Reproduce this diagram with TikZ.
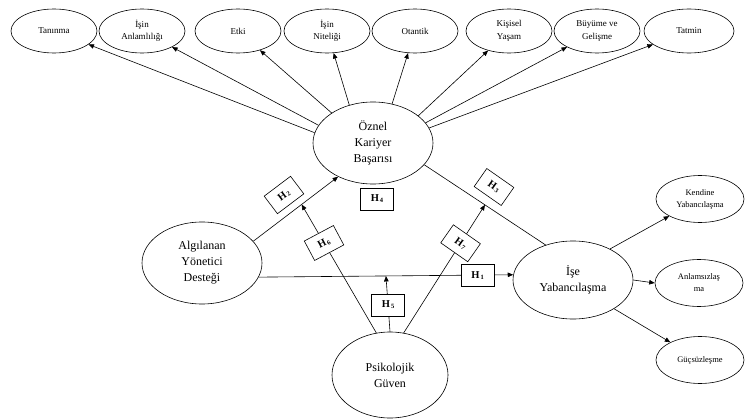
\documentclass[tikz,border=0pt]{standalone}
\usepackage{fontspec}
\setmainfont{Liberation Serif}
\usetikzlibrary{shapes.geometric,arrows.meta}

\newcommand{\hyp}[1]{\textbf{H}\kern1pt\raisebox{-0.2ex}{\fontsize{6.5}{6.5}\selectfont\bfseries #1}}

\tikzset{
  bigell/.style={ellipse, draw, line width=0.6pt, inner sep=0pt, align=center,
    minimum width=120pt, minimum height=82pt, font=\fontsize{12}{16}\selectfont},
  topell/.style={ellipse, draw, line width=0.6pt, inner sep=0pt, align=center,
    minimum width=86pt, minimum height=44pt, font=\fontsize{9}{12.5}\selectfont},
  sideell/.style={ellipse, draw, line width=0.6pt, inner sep=0pt, align=center,
    minimum width=88pt, minimum height=47pt, font=\fontsize{8.5}{12}\selectfont},
  hbox/.style={draw, fill=white, line width=0.6pt, inner sep=0pt,
    minimum width=33pt, minimum height=22pt, font=\fontsize{10.5}{11}\selectfont},
  arr/.style={line width=0.6pt, -{Triangle[length=5.5pt,width=4.5pt]}},
  ln/.style={line width=0.6pt},
}

\begin{document}
\begin{tikzpicture}[x=1pt,y=-1pt]
  \useasboundingbox (0,0) rectangle (745,420);

  % outcome dimensions of subjective career success
  \node[topell] (tan) at (54,31)  {Tanınma};
  \node[topell] (anl) at (142,31) {İşin\\Anlamlılığı};
  \node[topell] (etk) at (238,31) {Etki};
  \node[topell] (nit) at (327,31) {İşin\\Niteliği};
  \node[topell] (ota) at (415,31) {Otantik};
  \node[topell] (kis) at (509,31) {Kişisel\\Yaşam};
  \node[topell] (buy) at (597,31) {Büyüme ve\\Gelişme};
  \node[topell, minimum width=90pt] (tat) at (689,31) {Tatmin};

  % main constructs
  \node[bigell] (oz)  at (373,143) {Öznel\\Kariyer\\Başarısı};
  \node[bigell] (ayd) at (202,263) {Algılanan\\Yönetici\\Desteği};
  \node[bigell, minimum height=78pt] (ise) at (573,280) {İşe\\Yabancılaşma};
  \node[bigell, minimum width=116pt, minimum height=86pt] (pg) at (390,375) {Psikolojik\\Güven};

  % dimensions of work alienation
  \node[sideell] (ken) at (700,199) {Kendine\\Yabancılaşma};
  \node[sideell] (ans) at (699,283) {Anlamsızlaş\\ma};
  \node[sideell] (guc) at (700,360) {Güçsüzleşme};

  % subjective career success -> its dimensions
  \draw[arr] (oz.170) -- (tan);
  \draw[arr] (oz.162) -- (anl);
  \draw[arr] (oz.144) -- (etk);
  \draw[arr] (oz.122) -- (nit);
  \draw[arr] (oz.64)  -- (ota);
  \draw[arr] (oz.31)  -- (kis);
  \draw[arr] (oz.21)  -- (buy);
  \draw[arr] (oz.15)  -- (tat);

  % work alienation -> its dimensions
  \draw[arr] (ise.40) -- (ken);
  \draw[arr] (ise.east) -- (ans.west);
  \draw[arr] (ise.-35) -- (guc);

  % H1: supervisor support -> work alienation
  \draw[arr] (ayd.-14) -- node[hbox, pos=0.86] (h1) {\hyp{1}} coordinate[pos=0.5] (m1) (ise.175);

  % H2: supervisor support -> subjective career success
  \draw[arr] (ayd.23) -- coordinate[pos=0.57] (m2) (oz.224);
  \node[hbox, rotate=37] (h2) at (284,195) {\hyp{2}};

  % H3: subjective career success -- work alienation
  \draw[ln] (oz.-23) -- coordinate[pos=0.5] (m3) (ise.128);
  \node[hbox, rotate=-35] (h3) at (494,187) {\hyp{3}};

  % H4: mediation label
  \node[hbox] (h4) at (377,199) {\hyp{4}};

  % moderation paths of psychological safety
  \draw[arr] (pg.north) -- node[hbox, pos=0.48] (h5) {\hyp{5}} (m1);
  \draw[arr] (pg.108) -- node[hbox, pos=0.7, rotate=28] (h6) {\hyp{6}} (m2);
  \draw[arr] (pg.72) -- node[hbox, pos=0.7, rotate=-35] (h7) {\hyp{7}} (m3);
\end{tikzpicture}
\end{document}
